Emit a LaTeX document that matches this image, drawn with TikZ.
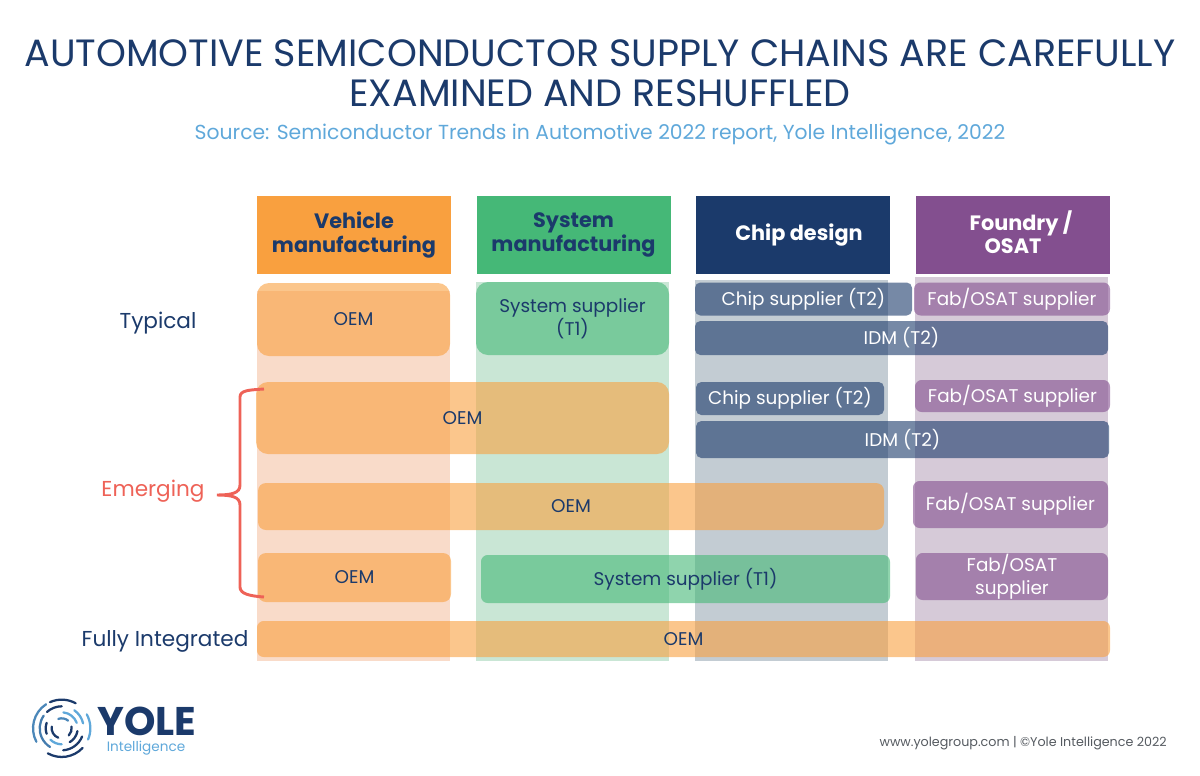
\documentclass[tikz,border=0pt]{standalone}
\usepackage{fontspec}
\setmainfont{Poppins}
\newcommand{\pxfont}[2]{\fontsize{#1pt}{#2pt}\selectfont}
\begin{document}
\begin{tikzpicture}[x=0.75pt,y=-0.75pt]
  % Colors
  \definecolor{navycolor}{HTML}{1B3A6B}
  \definecolor{orangecolor}{HTML}{F9A03F}
  \definecolor{greencolor}{HTML}{45B877}
  \definecolor{purplecolor}{HTML}{834F8F}
  \definecolor{skycolor}{HTML}{5FA8DA}
  \definecolor{redcolor}{HTML}{EE6257}
  \definecolor{greycolor}{HTML}{555A60}

  % Styles
  \tikzstyle{header}=[inner sep=0pt,align=center,font=\pxfont{15.6}{17.4}\bfseries]
  \tikzstyle{band}=[inner sep=0pt]
  \tikzstyle{box}=[inner sep=0pt,align=center,fill opacity=0.6,text opacity=1,font=\pxfont{13.8}{17}]
  \tikzstyle{row label}=[font=\pxfont{16.2}{18}]
  \tikzstyle{logo arc}=[line width=1.7pt,line cap=round]

  \useasboundingbox (0,0) rectangle (1200,775);

  % The title
  \node[navycolor,align=center,font=\pxfont{28.5}{30}] (title) at (600,73)
    {AUTOMOTIVE SEMICONDUCTOR SUPPLY CHAINS ARE CAREFULLY\\EXAMINED AND RESHUFFLED};
  \node[skycolor,font=\pxfont{15.24}{18}] (source) at (600,135)
    {Source: Semiconductor Trends in Automotive 2022 report, Yole Intelligence, 2022};

  % The column headers
  \foreach \name/\x/\col/\tc/\txt in {
      vehicle/354/orangecolor/navycolor/{Vehicle\\manufacturing},
      system/573.5/greencolor/navycolor/{System\\manufacturing},
      chip/793/navycolor/white/{\hspace*{9pt}Chip design},
      foundry/1013/purplecolor/white/{\hspace*{12pt}Foundry /\\OSAT\vphantom{g}}}
    \node[header,fill=\col,text=\tc,minimum width=194*0.75pt,minimum height=78*0.75pt]
      (head \name) at (\x,235) {\txt};

  % The column bands
  \foreach \name/\x/\y/\h/\col in {
      vehicle/353.5/476/370/F9DBC9,
      system/572/471.5/379/C9E6D5,
      chip/791.5/470.5/381/C3CCD3,
      foundry/1011.5/469/384/D6CAD8}
  {
    \definecolor{bandcolor}{HTML}{\col}
    \node[band,fill=bandcolor,minimum width=193*0.75pt,minimum height=\h*0.75pt]
      (band \name) at (\x,\y) {};
  }

  % The boxes
  \foreach \name/\x/\y/\w/\h/\r/\txt in {
      oema/353.5/319.5/193/73/9/OEM,
      oemb/462.5/418/413/72/9/OEM,
      oemc/571/506.5/626/47/6/OEM,
      oemd/354.5/577.5/193/49/6/OEM,
      oeme/683.5/639/853/36/5/OEM}
    \node[box,fill=orangecolor,text=navycolor,rounded corners=\r pt,
      minimum width=\w*0.75pt,minimum height=\h*0.75pt] (\name) at (\x,\y) {\txt};

  \foreach \name/\x/\y/\w/\h/\r/\txt in {
      sysa/572.5/318.5/193/73/9/{System supplier\\(T1)},
      sysb/685.5/579/409/48/5/{System supplier (T1)}}
    \node[box,fill=greencolor,text=navycolor,rounded corners=\r pt,
      minimum width=\w*0.75pt,minimum height=\h*0.75pt] (\name) at (\x,\y) {\txt};

  \foreach \name/\x/\y/\w/\h/\txt in {
      chipa/803.5/299/217/33/{Chip supplier (T2)},
      idma/901.5/338/413/34/{IDM (T2)},
      chipb/790/398.5/188/33/{Chip supplier (T2)},
      idmb/902.5/439.5/413/37/{IDM (T2)}}
    \node[box,fill=navycolor,text=white,rounded corners=4pt,
      minimum width=\w*0.75pt,minimum height=\h*0.75pt] (\name) at (\x,\y) {\txt};

  \foreach \name/\x/\y/\w/\h/\txt in {
      faba/1012/299/196/33/{Fab/OSAT supplier},
      fabb/1012.5/396/195/32/{Fab/OSAT supplier},
      fabc/1010.5/504.5/195/47/{Fab/OSAT supplier},
      fabd/1012/576.5/192/47/{Fab/OSAT\\supplier}}
    \node[box,fill=purplecolor,text=white,rounded corners=5pt,
      minimum width=\w*0.75pt,minimum height=\h*0.75pt] (\name) at (\x,\y) {\txt};

  % The row labels
  \node[row label,navycolor] (typical) at (158,323) {Typical};
  \node[row label,redcolor] (emerging) at (153,491) {Emerging};
  \node[row label,navycolor] (integrated) at (165,641) {Fully Integrated};

  % The brace
  \coordinate (brace top) at (264,389);
  \coordinate (brace tip) at (217,495);
  \coordinate (brace bottom) at (264,597);
  \draw[redcolor,line width=2.2pt] (brace top) .. controls (250,390) and (240,390) .. (240,397)
    -- (240,485) .. controls (240,493) and (232,495) .. (brace tip)
    .. controls (232,495) and (240,497) .. (240,505)
    -- (240,587) .. controls (240,594) and (250,596) .. (brace bottom);

  % The logo
  \coordinate (logo) at (61.7,728.3);
  \foreach \r/\a/\b/\col in {
      21.5/61/114/navycolor, 21.5/123/208/skycolor!70!navycolor,
      21.5/-23/29/skycolor, 21.5/-119/-43/navycolor,
      16.5/90/132/navycolor, 16.5/145/238/skycolor!60!navycolor,
      16.5/13/55/skycolor, 16.5/-86/-22/navycolor,
      12/20/84/skycolor, 12/160/200/navycolor,
      12/225/270/skycolor, 12/-60/-10/navycolor,
      7.5/50/110/skycolor!70!navycolor, 7.5/170/250/navycolor, 7.5/-45/10/navycolor}
    \draw[logo arc,\col] (logo) ++(\a:\r pt) arc[start angle=\a,end angle=\b,radius=\r pt];
  \node[navycolor,inner sep=0pt,font=\pxfont{30}{30}\bfseries] (yole) at (147,721) {YOLE};
  \node[skycolor,inner sep=0pt,font=\pxfont{10.2}{11}] (intelligence) at (146,748) {Intelligence};

  % The footer
  \node[greycolor,anchor=east,inner sep=0pt,font=\pxfont{9.53}{12}] (footer) at (1167,743)
    {www.yolegroup.com | ©Yole Intelligence 2022};
\end{tikzpicture}
\end{document}
